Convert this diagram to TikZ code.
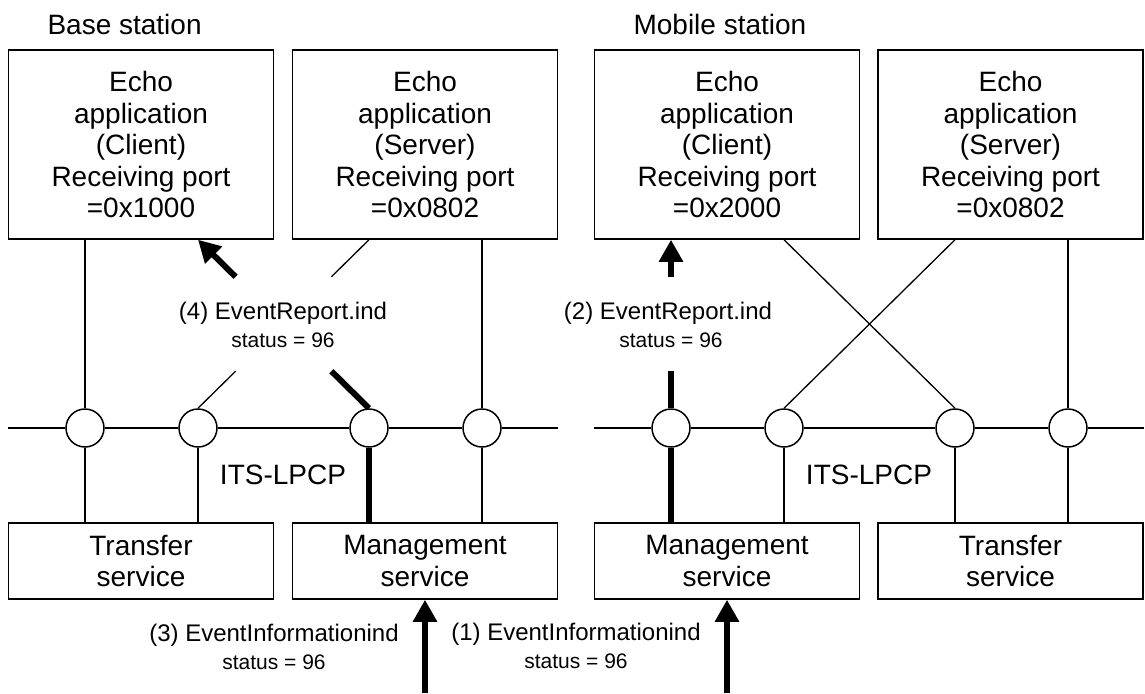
\documentclass[tikz,border=0pt]{standalone}
\usepackage{fontspec}
\setmainfont{Liberation Sans}
\usetikzlibrary{arrows.meta}

\tikzset{
  unitbox/.style={draw,line width=1.5pt,minimum width=265pt,align=center,inner sep=0pt,
    font=\fontsize{28}{31.5}\selectfont},
  appbox/.style={unitbox,minimum height=189pt},
  svcbox/.style={unitbox,minimum height=76pt},
  port/.style={circle,draw,fill=white,line width=1.5pt,minimum size=38pt,inner sep=0pt},
  link/.style={line width=1.3pt},
  flow/.style={line width=6pt},
  flowarrow/.style={flow,-{Triangle[width=23pt,length=22pt]}},
  msg/.style={font=\fontsize{24}{28}\selectfont},
  stat/.style={font=\fontsize{21}{24}\selectfont},
  title/.style={font=\fontsize{28}{32}\selectfont,anchor=west}
}

\begin{document}
\begin{tikzpicture}[x=1pt,y=-1pt]
    \useasboundingbox (0,0) rectangle (1145,693);

    % Station titles
    \node[title] (base) at (44,24) {Base station};
    \node[title] (mobile) at (630,24) {Mobile station};

    % Echo applications
    \node[appbox] (ta1) at (141,144.5) {Echo\\application\\(Client)\\Receiving port\\=0x1000};
    \node[appbox] (ta2) at (425,144.5) {Echo\\application\\(Server)\\Receiving port\\=0x0802};
    \node[appbox] (ta3) at (727,144.5) {Echo\\application\\(Client)\\Receiving port\\=0x2000};
    \node[appbox] (ta4) at (1010.5,144.5) {Echo\\application\\(Server)\\Receiving port\\=0x0802};

    % Services
    \node[svcbox] (bs1) at (141,561) {Transfer\\service};
    \node[svcbox] (bs2) at (425,561) {Management\\service};
    \node[svcbox] (bs3) at (727,561) {Management\\service};
    \node[svcbox] (bs4) at (1010.5,561) {Transfer\\service};

    % Ports on the ITS-LPCP bus
    \node[port] (p1) at (85,428) {};
    \node[port] (p2) at (198,428) {};
    \node[port] (p3) at (369,428) {};
    \node[port] (p4) at (482,428) {};
    \node[port] (p5) at (671,428) {};
    \node[port] (p6) at (784,428) {};
    \node[port] (p7) at (955,428) {};
    \node[port] (p8) at (1068,428) {};

    \node[font=\fontsize{28}{32}\selectfont] (lpcp1) at (283,475) {ITS-LPCP};
    \node[font=\fontsize{28}{32}\selectfont] (lpcp2) at (869,475) {ITS-LPCP};

    % Bus lines
    \draw[link] (bs1.west |- p1) -- (p1) -- (p2) -- (p3) -- (p4) -- (bs2.east |- p4);
    \draw[link] (bs3.west |- p5) -- (p5) -- (p6) -- (p7) -- (p8) -- (bs4.east |- p8);

    % Port links
    \draw[link] (ta1.south -| p1) -- (p1);
    \draw[link] (ta2.south -| p4) -- (p4);
    \draw[link] (ta4.south -| p8) -- (p8);
    \foreach \p/\b in {p1/bs1,p2/bs1,p4/bs2,p6/bs3,p7/bs4,p8/bs4}
        \draw[link] (\p) -- (\b.north -| \p);
    \draw[flow] (p3) -- (bs2.north -| p3);
    \draw[flow] (p5) -- (bs3.north -| p5);

    % Crossed links, mobile station
    \draw[link] (ta3.south -| p6) -- (p7.north);
    \draw[link] (ta4.south -| p7) -- (p6.north);

    % Crossed links, base station (broken round the label)
    \path (ta2.south -| p3) -- (p2.north) coordinate[pos=0.22] (g1) coordinate[pos=0.78] (g2);
    \draw[link] (ta2.south -| p3) -- (g1);
    \draw[link] (g2) -- (p2.north);
    \path (p3.north) -- (ta1.south -| p2) coordinate[pos=0.22] (g3) coordinate[pos=0.78] (g4);
    \draw[flow] (p3.north) -- (g3);
    \draw[flowarrow] (g4) -- (ta1.south -| p2);

    % Report to the mobile client
    \path (p5.north) -- (ta3.south -| p5) coordinate[pos=0.22] (g5) coordinate[pos=0.78] (g6);
    \draw[flow] (p5.north) -- (g5);
    \draw[flowarrow] (g6) -- (ta3.south -| p5);

    % Incoming events
    \coordinate (in1) at (425,693);
    \coordinate (in2) at (727,693);
    \draw[flowarrow] (in1) -- (bs2.south);
    \draw[flowarrow] (in2) -- (bs3.south);

    % Messages
    \node[msg] (m4) at (283,313) {(4) EventReport.ind};
    \node[stat] (s4) at (283,340) {status = 96};
    \node[msg] (m2) at (668,313) {(2) EventReport.ind};
    \node[stat] (s2) at (671,340) {status = 96};
    \node[msg] (m3) at (274,635) {(3) EventInformationind};
    \node[stat] (s3) at (274,662) {status = 96};
    \node[msg] (m1) at (576,634) {(1) EventInformationind};
    \node[stat] (s1) at (576,661) {status = 96};
\end{tikzpicture}
\end{document}
